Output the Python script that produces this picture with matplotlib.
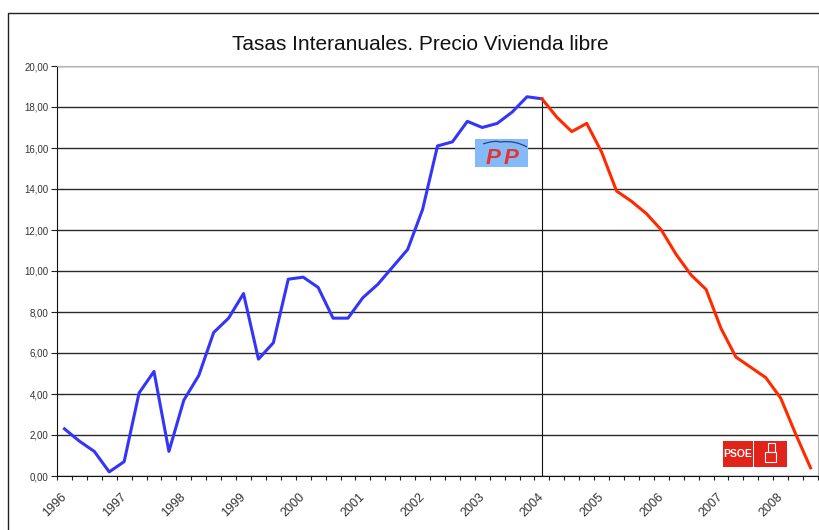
import numpy as np
import matplotlib.pyplot as plt
import matplotlib.transforms as mtransforms
from matplotlib.lines import Line2D
from matplotlib.patches import Rectangle, PathPatch
from matplotlib.path import Path

plt.rcParams['font.family'] = ['Liberation Sans', 'DejaVu Sans']

# tasas interanuales trimestrales (%), de 1996 T1 a 2008 T3
tasas = [2.3, 1.7, 1.2, 0.2, 0.7, 4.05, 5.1, 1.2, 3.7, 4.9,
         7.0, 7.7, 8.9, 5.7, 6.5, 9.6, 9.7, 9.2, 7.7, 7.7,
         8.7, 9.35, 10.2, 11.05, 13.0, 16.1, 16.3, 17.3, 17.0, 17.2,
         17.75, 18.5, 18.4, 17.5, 16.8, 17.2, 15.8, 13.9, 13.4, 12.8,
         12.0, 10.8, 9.8, 9.1, 7.2, 5.8, 5.3, 4.8, 3.8, 2.05, 0.4]
years = ['1996', '1997', '1998', '1999', '2000', '2001', '2002',
         '2003', '2004', '2005', '2006', '2007', '2008']
y_ticks = [0, 2, 4, 6, 8, 10, 12, 14, 16, 18, 20]
cambio = 32  # 2004 T1 -> a partir de aqui en rojo

x = np.arange(len(tasas))

fig = plt.figure(figsize=(8.19, 5.30), dpi=100)
ax = fig.add_axes([57/819, 54/530, 761/819, 410/530])

# lineas
ax.plot(x[:cambio+1], tasas[:cambio+1], color='#3535fa', lw=2.2, zorder=4)
ax.plot(x[cambio:], tasas[cambio:], color='#ff2a00', lw=2.2, zorder=4)
ax.vlines(cambio, 0, tasas[cambio], color='#111111', lw=0.8, zorder=3)

ax.set_xlim(-0.5, len(tasas) - 0.5)
ax.set_ylim(0, 20)

# eje y
ax.set_yticks(y_ticks)
ax.set_yticklabels([f'{v:.2f}'.replace('.', ',') for v in y_ticks])
ax.yaxis.grid(True, color='#2a2a2a', lw=1.0)
ax.tick_params(axis='y', length=4, width=0.8, color='#222222', pad=2,
               labelsize=7, labelcolor='#333333')

# eje x: etiquetas cada 4 trimestres, marcas entre categorias
ax.set_xticks(x[::4])
ax.set_xticklabels(years, rotation=45, ha='right', va='top',
                   rotation_mode='anchor')
ax.set_xticks(np.arange(-0.5, len(tasas)), minor=True)
ax.tick_params(axis='x', which='major', length=0, pad=11,
               labelsize=9, labelcolor='#333333')
ax.tick_params(axis='x', which='minor', length=3, width=0.8, color='#222222')
shift = mtransforms.ScaledTranslation(-4/100, 0, fig.dpi_scale_trans)
for lab in ax.get_xticklabels():
    lab.set_transform(lab.get_transform() + shift)

ax.spines['left'].set_color('#111111')
ax.spines['bottom'].set_color('#111111')
ax.spines['top'].set_color('#b5b5b5')
ax.spines['right'].set_color('#b5b5b5')
for s in ax.spines.values():
    s.set_zorder(3)

# titulo
fig.text(420/819, 1 - 44/530, 'Tasas Interanuales. Precio Vivienda libre',
         ha='center', va='center', fontsize=15, color='#111111')

# marco del grafico
fig.add_artist(Line2D([8/819, 8/819, 1], [0, 1 - 13/530, 1 - 13/530],
                      transform=fig.transFigure, color='#222222', lw=1))

# logo PP
ax.add_patch(Rectangle((0.549, 0.754), 0.070, 0.067, transform=ax.transAxes,
                       facecolor='#84baf7', edgecolor='none', zorder=5))
for px in [0.573, 0.596]:
    ax.text(px, 0.761, 'P', transform=ax.transAxes, color='#e8332a',
            fontsize=16, fontweight='bold', style='italic',
            ha='center', va='baseline', zorder=6)
gull = Path([(0.560, 0.810), (0.5756, 0.8195), (0.5821, 0.8146),
             (0.6018, 0.8195), (0.6176, 0.8024)],
            [Path.MOVETO, Path.CURVE3, Path.CURVE3, Path.CURVE3, Path.CURVE3])
ax.add_patch(PathPatch(gull, transform=ax.transAxes, facecolor='none',
                       edgecolor='#2b3f8f', lw=0.9, zorder=6))

# logo PSOE
ax.add_patch(Rectangle((0.8748, 0.0227), 0.0394, 0.0634, transform=ax.transAxes,
                       facecolor='#e2231a', edgecolor='none', zorder=5))
ax.add_patch(Rectangle((0.9163, 0.0227), 0.0434, 0.0634, transform=ax.transAxes,
                       facecolor='#e2231a', edgecolor='none', zorder=5))
ax.text(0.8945, 0.0544, 'PSOE', transform=ax.transAxes, color='white',
        fontsize=7.5, fontweight='bold', ha='center', va='center', zorder=6)
ax.add_patch(Rectangle((0.931, 0.034), 0.014, 0.024, transform=ax.transAxes,
                       facecolor='none', edgecolor='white', lw=0.8, zorder=6))
ax.add_patch(Rectangle((0.934, 0.058), 0.010, 0.022, transform=ax.transAxes,
                       facecolor='none', edgecolor='white', lw=0.8, zorder=6))

plt.savefig('out.png', dpi=100)
